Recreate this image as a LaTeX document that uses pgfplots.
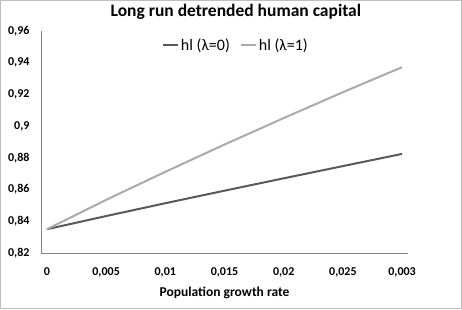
\documentclass[border=0pt]{standalone}
\usepackage{fontspec}
\setmainfont{Carlito}
\usepackage{pgfplots}
\pgfplotsset{compat=1.18}
\definecolor{darkl}{RGB}{89,89,89}
\definecolor{lightl}{RGB}{170,170,170}
\definecolor{axgray}{RGB}{134,134,134}
\definecolor{bordergray}{RGB}{190,190,190}
\begin{document}
\begin{tikzpicture}[x=1pt,y=1pt]
\draw[bordergray, line width=0.8pt] (0.4,0.4) rectangle (461.6,308.6);
\begin{axis}[
  at={(41pt,56pt)}, anchor=south west,
  scale only axis, width=367pt, height=222pt,
  xmin=-0.1, xmax=6.1, ymin=0.82, ymax=0.96,
  axis x line*=bottom, axis y line*=left,
  axis line style={axgray, line width=0.8pt},
  major tick length=0pt,
  xtick={0,1,2,3,4,5,6},
  xticklabels={0,{0,005},{0,01},{0,015},{0,02},{0,025},{0,003}},
  ytick={0.82,0.84,0.86,0.88,0.9,0.92,0.94,0.96},
  yticklabels={{0,82},{0,84},{0,86},{0,88},{0,9},{0,92},{0,94},{0,96}},
  ticklabel style={font=\bfseries\fontsize{12}{14}\selectfont},
  yticklabel style={anchor=east, xshift=-8pt},
  xticklabel style={anchor=center, yshift=-19pt},
  title={Long run detrended human capital},
  title style={at={(axis description cs:0.531,1)}, anchor=center, yshift=13pt, font=\bfseries\fontsize{17.5}{20}\selectfont},
  xlabel={Population growth rate},
  xlabel style={at={(axis description cs:0.5,0)}, anchor=center, yshift=-40pt, font=\bfseries\fontsize{13.5}{16}\selectfont},
  legend columns=2,
  legend style={draw=none, fill=none, at={(axis description cs:0.531,0.985)}, anchor=north,
    font=\fontsize{16}{18}\selectfont, /tikz/every even column/.append style={column sep=8pt}},
  legend image code/.code={\draw[#1] (0pt,0pt) -- (15pt,0pt);},
]
\addplot[darkl, line width=2pt] coordinates {(0,0.835) (1,0.8433) (2,0.8514) (3,0.8593) (4,0.8671) (5,0.8748) (6,0.8825)};
\addlegendentry{hl (λ=0)}
\addplot[lightl, line width=2pt] coordinates {(0,0.835) (1,0.8535) (2,0.8712) (3,0.8884) (4,0.9051) (5,0.9214) (6,0.9372)};
\addlegendentry{hl (λ=1)}
\end{axis}
\end{tikzpicture}
\end{document}
